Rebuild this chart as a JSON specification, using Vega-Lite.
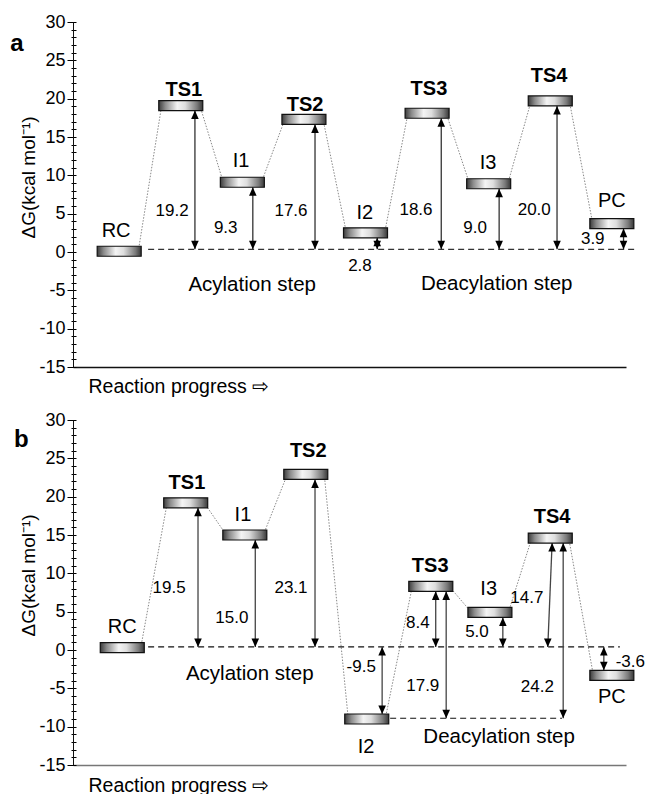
{
  "$schema": "https://vega.github.io/schema/vega-lite/v6.json",
  "padding": {"left": 10, "top": 13, "right": 0, "bottom": 0},
  "background": "white",
  "spacing": 15,
  "config": {"font": "Liberation Sans", "view": {"stroke": null}, "axis": {"grid": false}},
  "datasets": {
    "levelsA": [
      {"state": "RC", "x": 1, "y": 0.1}, {"state": "TS1", "x": 2, "y": 19.1}, {"state": "I1", "x": 3, "y": 9.1},
      {"state": "TS2", "x": 4, "y": 17.3}, {"state": "I2", "x": 5, "y": 2.5}, {"state": "TS3", "x": 6, "y": 18.1},
      {"state": "I3", "x": 7, "y": 8.9}, {"state": "TS4", "x": 8, "y": 19.7}, {"state": "PC", "x": 9, "y": 3.7}
    ],
    "connA": [
      {"x": 1.31, "y": 0.1, "x2": 1.69, "y2": 19.1}, {"x": 2.31, "y": 19.1, "x2": 2.69, "y2": 9.1},
      {"x": 3.31, "y": 9.1, "x2": 3.69, "y2": 17.3}, {"x": 4.31, "y": 17.3, "x2": 4.69, "y2": 2.5},
      {"x": 5.31, "y": 2.5, "x2": 5.69, "y2": 18.1}, {"x": 6.31, "y": 18.1, "x2": 6.69, "y2": 8.9},
      {"x": 7.31, "y": 8.9, "x2": 7.69, "y2": 19.7}, {"x": 8.31, "y": 19.7, "x2": 8.69, "y2": 3.7}
    ],
    "dashA": [{"x": 1.47, "y": 0.35, "x2": 9.41, "y2": 0.35}],
    "arrowsA": [
      {"x": 2.23, "y": 0.35, "x2": 2.23, "y2": 18.45}, {"x": 3.17, "y": 0.35, "x2": 3.17, "y2": 8.45},
      {"x": 4.18, "y": 0.35, "x2": 4.18, "y2": 16.65}, {"x": 5.19, "y": 0.35, "x2": 5.19, "y2": 1.85},
      {"x": 6.23, "y": 0.35, "x2": 6.23, "y2": 17.45}, {"x": 7.17, "y": 0.35, "x2": 7.17, "y2": 8.25},
      {"x": 8.11, "y": 0.35, "x2": 8.11, "y2": 19.05}, {"x": 9.19, "y": 0.35, "x2": 9.19, "y2": 3.05}
    ],
    "textA": [
      {"k": "ts", "t": "TS1", "x": 2.05, "y": 21.1}, {"k": "ts", "t": "TS2", "x": 4.02, "y": 19.2},
      {"k": "ts", "t": "TS3", "x": 6.03, "y": 21.2}, {"k": "ts", "t": "TS4", "x": 7.98, "y": 22.9},
      {"k": "st", "t": "RC", "x": 0.95, "y": 2.7}, {"k": "st", "t": "I1", "x": 2.98, "y": 11.9},
      {"k": "st", "t": "I2", "x": 4.99, "y": 5.1}, {"k": "st", "t": "I3", "x": 6.99, "y": 11.6},
      {"k": "st", "t": "PC", "x": 9.0, "y": 6.6},
      {"k": "val", "t": "19.2", "x": 1.86, "y": 5.35}, {"k": "val", "t": "9.3", "x": 2.73, "y": 3.1},
      {"k": "val", "t": "17.6", "x": 3.79, "y": 5.35}, {"k": "val", "t": "2.8", "x": 4.91, "y": -1.8},
      {"k": "val", "t": "18.6", "x": 5.82, "y": 5.5}, {"k": "val", "t": "9.0", "x": 6.78, "y": 3.1},
      {"k": "val", "t": "20.0", "x": 7.74, "y": 5.5}, {"k": "val", "t": "3.9", "x": 8.69, "y": 1.7},
      {"k": "step", "t": "Acylation step", "x": 3.16, "y": -4.3},
      {"k": "step", "t": "Deacylation step", "x": 7.13, "y": -4.2},
      {"k": "letter", "t": "a", "x": -0.66, "y": 27.1}
    ],
    "levelsB": [
      {"state": "RC", "x": 1.05, "y": 0.3}, {"state": "TS1", "x": 2.08, "y": 19.2}, {"state": "I1", "x": 3.04, "y": 15.0},
      {"state": "TS2", "x": 4.03, "y": 22.9}, {"state": "I2", "x": 5.02, "y": -9.0}, {"state": "TS3", "x": 6.06, "y": 8.3},
      {"state": "I3", "x": 7.02, "y": 4.9}, {"state": "TS4", "x": 8.0, "y": 14.6}, {"state": "PC", "x": 9.0, "y": -3.3}
    ],
    "connB": [
      {"x": 1.35, "y": 0.3, "x2": 1.78, "y2": 19.2}, {"x": 2.38, "y": 19.2, "x2": 2.74, "y2": 15.0},
      {"x": 3.34, "y": 15.0, "x2": 3.73, "y2": 22.9}, {"x": 4.33, "y": 22.9, "x2": 4.72, "y2": -9.0},
      {"x": 5.32, "y": -9.0, "x2": 5.76, "y2": 8.3}, {"x": 6.36, "y": 8.3, "x2": 6.72, "y2": 4.9},
      {"x": 7.32, "y": 4.9, "x2": 7.7, "y2": 14.6}, {"x": 8.3, "y": 14.6, "x2": 8.7, "y2": -3.3}
    ],
    "dashB": [{"x": 1.47, "y": 0.4, "x2": 9.13, "y2": 0.4}, {"x": 5.4, "y": -8.9, "x2": 8.19, "y2": -8.9}],
    "arrowsB": [
      {"x": 2.28, "y": 0.4, "x2": 2.28, "y2": 18.55}, {"x": 3.21, "y": 0.4, "x2": 3.21, "y2": 14.35},
      {"x": 4.18, "y": 0.4, "x2": 4.18, "y2": 22.25}, {"x": 5.27, "y": -8.35, "x2": 5.27, "y2": 0.4},
      {"x": 6.14, "y": 0.4, "x2": 6.14, "y2": 7.65}, {"x": 6.31, "y": -8.9, "x2": 6.31, "y2": 7.65},
      {"x": 7.23, "y": 0.4, "x2": 7.23, "y2": 4.25}, {"x": 7.96, "y": 0.4, "x2": 8.03, "y2": 13.95},
      {"x": 8.21, "y": -8.9, "x2": 8.21, "y2": 13.95}, {"x": 8.87, "y": -2.65, "x2": 8.87, "y2": 0.4}
    ],
    "textB": [
      {"k": "ts", "t": "TS1", "x": 2.1, "y": 21.8}, {"k": "ts", "t": "TS2", "x": 4.07, "y": 25.9},
      {"k": "ts", "t": "TS3", "x": 6.05, "y": 10.9}, {"k": "ts", "t": "TS4", "x": 8.03, "y": 17.4},
      {"k": "st", "t": "RC", "x": 1.05, "y": 3.0}, {"k": "st", "t": "I1", "x": 3.01, "y": 17.6},
      {"k": "st", "t": "I2", "x": 5.01, "y": -12.6}, {"k": "st", "t": "I3", "x": 7.0, "y": 7.9},
      {"k": "st", "t": "PC", "x": 9.0, "y": -6.1},
      {"k": "val", "t": "19.5", "x": 1.81, "y": 8.1}, {"k": "val", "t": "15.0", "x": 2.83, "y": 4.2},
      {"k": "val", "t": "23.1", "x": 3.79, "y": 8.1}, {"k": "val", "t": "-9.5", "x": 4.93, "y": -2.2},
      {"k": "val", "t": "8.4", "x": 5.85, "y": 3.5}, {"k": "val", "t": "17.9", "x": 5.93, "y": -4.7},
      {"k": "val", "t": "5.0", "x": 6.81, "y": 2.3}, {"k": "val", "t": "14.7", "x": 7.62, "y": 6.8},
      {"k": "val", "t": "24.2", "x": 7.79, "y": -4.8}, {"k": "val", "t": "-3.6", "x": 9.3, "y": -1.6},
      {"k": "step", "t": "Acylation step", "x": 3.12, "y": -3.1},
      {"k": "step", "t": "Deacylation step", "x": 7.17, "y": -11.3},
      {"k": "letter", "t": "b", "x": -0.59, "y": 27.4}
    ]
  },
  "vconcat": [
    {
      "width": 553, "height": 345,
      "resolve": {"axis": {"x": "independent", "y": "independent"}},
      "layer": [
        {"data": {"name": "connA"}, "mark": {"type": "rule", "color": "#7a7a7a", "strokeWidth": 0.9, "strokeDash": [1.5, 1.5]},
         "encoding": {"x": {"field": "x", "type": "quantitative", "scale": {"domain": [0.25, 9.23], "nice": false, "zero": false}, "axis": null},
                      "y": {"field": "y", "type": "quantitative", "scale": {"domain": [-15, 30], "nice": false, "zero": false}, "axis": null},
                      "x2": {"field": "x2"}, "y2": {"field": "y2"}}},
        {"data": {"name": "dashA"}, "mark": {"type": "rule", "color": "#333", "strokeWidth": 1.2, "strokeDash": [6, 4]},
         "encoding": {"x": {"field": "x", "type": "quantitative", "scale": {"domain": [0.25, 9.23], "nice": false, "zero": false}, "axis": null},
                      "y": {"field": "y", "type": "quantitative", "scale": {"domain": [-15, 30], "nice": false, "zero": false},
                            "axis": {"orient": "left", "title": null, "labels": false, "domain": false, "ticks": true, "offset": -3,
                                     "values": [-15,-14,-13,-12,-11,-10,-9,-8,-7,-6,-5,-4,-3,-2,-1,0,1,2,3,4,5,6,7,8,9,10,11,12,13,14,15,16,17,18,19,20,21,22,23,24,25,26,27,28,29,30],
                                     "tickColor": "#000", "tickWidth": 1,
                                     "tickSize": {"condition": {"test": "datum.value % 5 === 0", "value": 9}, "value": 5}}},
                      "x2": {"field": "x2"}, "y2": {"field": "y2"}}},
        {"data": {"name": "arrowsA"}, "mark": {"type": "rule", "color": "#333", "strokeWidth": 1.3},
         "encoding": {"x": {"field": "x", "type": "quantitative", "scale": {"domain": [0.25, 9.23], "nice": false, "zero": false}, "axis": null},
                      "y": {"field": "y", "type": "quantitative", "scale": {"domain": [-15, 30], "nice": false, "zero": false}, "axis": null},
                      "x2": {"field": "x2"}, "y2": {"field": "y2"}}},
        {"data": {"name": "levelsA"},
         "mark": {"type": "tick", "orient": "horizontal", "size": 44, "thickness": 10, "opacity": 1, "stroke": "#111", "strokeWidth": 1.2,
                  "fill": {"gradient": "linear", "x1": 0, "y1": 0, "x2": 1, "y2": 0,
                           "stops": [{"offset": 0, "color": "#3c3c3c"}, {"offset": 0.15, "color": "#8c8c8c"}, {"offset": 0.42, "color": "#f4f4f4"},
                                     {"offset": 0.6, "color": "#dedede"}, {"offset": 0.87, "color": "#7a7a7a"}, {"offset": 1, "color": "#383838"}]}},
         "encoding": {"x": {"field": "x", "type": "quantitative", "scale": {"domain": [0.25, 9.23], "nice": false, "zero": false},
                            "axis": {"orient": "bottom", "title": "Reaction progress ⇨", "ticks": false, "labels": false, "domain": true,
                                     "domainColor": "#111", "domainWidth": 1.5, "titleFontSize": 19.5, "titleFontWeight": "normal", "titleColor": "#000",
                                     "titleAlign": "left", "titleBaseline": "middle", "titleX": 15, "titleY": 19}},
                      "y": {"field": "y", "type": "quantitative", "scale": {"domain": [-15, 30], "nice": false, "zero": false},
                            "axis": {"orient": "left", "title": "ΔG(kcal mol⁻¹)", "values": [-15, -10, -5, 0, 5, 10, 15, 20, 25, 30],
                                     "labelExpr": "'' + datum.value", "ticks": false, "tickSize": 0, "domain": true, "domainColor": "#111", "domainWidth": 1,
                                     "labelFontSize": 18, "labelPadding": 8, "labelColor": "#000",
                                     "titleFontSize": 19, "titleFontWeight": "normal", "titleColor": "#000",
                                     "titleX": -45, "titleY": 155, "titleAlign": "center", "titleBaseline": "middle", "titleAngle": -90}}}},
        {"data": {"name": "arrowsA"}, "mark": {"type": "point", "shape": "M0,0L-0.8,1.8L0.8,1.8Z", "size": 90, "filled": true, "color": "#000", "opacity": 1},
         "encoding": {"x": {"field": "x2", "type": "quantitative", "scale": {"domain": [0.25, 9.23], "nice": false, "zero": false}, "axis": null},
                      "y": {"field": "y2", "type": "quantitative", "scale": {"domain": [-15, 30], "nice": false, "zero": false}, "axis": null}}},
        {"data": {"name": "arrowsA"}, "mark": {"type": "point", "shape": "M0,0L-0.8,-1.8L0.8,-1.8Z", "size": 90, "filled": true, "color": "#000", "opacity": 1},
         "encoding": {"x": {"field": "x", "type": "quantitative", "scale": {"domain": [0.25, 9.23], "nice": false, "zero": false}, "axis": null},
                      "y": {"field": "y", "type": "quantitative", "scale": {"domain": [-15, 30], "nice": false, "zero": false}, "axis": null}}},
        {"data": {"name": "textA"}, "transform": [{"filter": "datum.k === 'ts'"}],
         "mark": {"type": "text", "fontSize": 20, "fontWeight": "bold", "align": "center", "baseline": "middle", "color": "#000"},
         "encoding": {"x": {"field": "x", "type": "quantitative", "scale": {"domain": [0.25, 9.23], "nice": false, "zero": false}, "axis": null},
                      "y": {"field": "y", "type": "quantitative", "scale": {"domain": [-15, 30], "nice": false, "zero": false}, "axis": null},
                      "text": {"field": "t"}}},
        {"data": {"name": "textA"}, "transform": [{"filter": "datum.k === 'st'"}],
         "mark": {"type": "text", "fontSize": 20, "align": "center", "baseline": "middle", "color": "#000"},
         "encoding": {"x": {"field": "x", "type": "quantitative", "scale": {"domain": [0.25, 9.23], "nice": false, "zero": false}, "axis": null},
                      "y": {"field": "y", "type": "quantitative", "scale": {"domain": [-15, 30], "nice": false, "zero": false}, "axis": null},
                      "text": {"field": "t"}}},
        {"data": {"name": "textA"}, "transform": [{"filter": "datum.k === 'val'"}],
         "mark": {"type": "text", "fontSize": 17, "align": "center", "baseline": "middle", "color": "#000"},
         "encoding": {"x": {"field": "x", "type": "quantitative", "scale": {"domain": [0.25, 9.23], "nice": false, "zero": false}, "axis": null},
                      "y": {"field": "y", "type": "quantitative", "scale": {"domain": [-15, 30], "nice": false, "zero": false}, "axis": null},
                      "text": {"field": "t"}}},
        {"data": {"name": "textA"}, "transform": [{"filter": "datum.k === 'step'"}],
         "mark": {"type": "text", "fontSize": 20.5, "align": "center", "baseline": "middle", "color": "#000"},
         "encoding": {"x": {"field": "x", "type": "quantitative", "scale": {"domain": [0.25, 9.23], "nice": false, "zero": false}, "axis": null},
                      "y": {"field": "y", "type": "quantitative", "scale": {"domain": [-15, 30], "nice": false, "zero": false}, "axis": null},
                      "text": {"field": "t"}}},
        {"data": {"name": "textA"}, "transform": [{"filter": "datum.k === 'letter'"}],
         "mark": {"type": "text", "fontSize": 24, "fontWeight": "bold", "align": "center", "baseline": "middle", "color": "#000"},
         "encoding": {"x": {"field": "x", "type": "quantitative", "scale": {"domain": [0.25, 9.23], "nice": false, "zero": false}, "axis": null},
                      "y": {"field": "y", "type": "quantitative", "scale": {"domain": [-15, 30], "nice": false, "zero": false}, "axis": null},
                      "text": {"field": "t"}}}
      ]
    },
    {
      "width": 553, "height": 345,
      "resolve": {"axis": {"x": "independent", "y": "independent"}},
      "layer": [
        {"data": {"name": "connB"}, "mark": {"type": "rule", "color": "#7a7a7a", "strokeWidth": 0.9, "strokeDash": [1.5, 1.5]},
         "encoding": {"x": {"field": "x", "type": "quantitative", "scale": {"domain": [0.25, 9.23], "nice": false, "zero": false}, "axis": null},
                      "y": {"field": "y", "type": "quantitative", "scale": {"domain": [-15, 30], "nice": false, "zero": false}, "axis": null},
                      "x2": {"field": "x2"}, "y2": {"field": "y2"}}},
        {"data": {"name": "dashB"}, "mark": {"type": "rule", "color": "#111", "strokeWidth": 1.2, "strokeDash": [6, 4]},
         "encoding": {"x": {"field": "x", "type": "quantitative", "scale": {"domain": [0.25, 9.23], "nice": false, "zero": false}, "axis": null},
                      "y": {"field": "y", "type": "quantitative", "scale": {"domain": [-15, 30], "nice": false, "zero": false},
                            "axis": {"orient": "left", "title": null, "labels": false, "domain": false, "ticks": true, "offset": -3,
                                     "values": [-15,-14,-13,-12,-11,-10,-9,-8,-7,-6,-5,-4,-3,-2,-1,0,1,2,3,4,5,6,7,8,9,10,11,12,13,14,15,16,17,18,19,20,21,22,23,24,25,26,27,28,29,30],
                                     "tickColor": "#000", "tickWidth": 1,
                                     "tickSize": {"condition": {"test": "datum.value % 5 === 0", "value": 9}, "value": 5}}},
                      "x2": {"field": "x2"}, "y2": {"field": "y2"}}},
        {"data": {"name": "arrowsB"}, "mark": {"type": "rule", "color": "#444", "strokeWidth": 1.3},
         "encoding": {"x": {"field": "x", "type": "quantitative", "scale": {"domain": [0.25, 9.23], "nice": false, "zero": false}, "axis": null},
                      "y": {"field": "y", "type": "quantitative", "scale": {"domain": [-15, 30], "nice": false, "zero": false}, "axis": null},
                      "x2": {"field": "x2"}, "y2": {"field": "y2"}}},
        {"data": {"name": "levelsB"},
         "mark": {"type": "tick", "orient": "horizontal", "size": 44, "thickness": 10, "opacity": 1, "stroke": "#111", "strokeWidth": 1.2,
                  "fill": {"gradient": "linear", "x1": 0, "y1": 0, "x2": 1, "y2": 0,
                           "stops": [{"offset": 0, "color": "#3c3c3c"}, {"offset": 0.15, "color": "#8c8c8c"}, {"offset": 0.42, "color": "#f4f4f4"},
                                     {"offset": 0.6, "color": "#dedede"}, {"offset": 0.87, "color": "#7a7a7a"}, {"offset": 1, "color": "#383838"}]}},
         "encoding": {"x": {"field": "x", "type": "quantitative", "scale": {"domain": [0.25, 9.23], "nice": false, "zero": false},
                            "axis": {"orient": "bottom", "title": "Reaction progress ⇨", "ticks": false, "labels": false, "domain": true,
                                     "domainColor": "#777", "domainWidth": 1.5, "titleFontSize": 19.5, "titleFontWeight": "normal", "titleColor": "#000",
                                     "titleAlign": "left", "titleBaseline": "middle", "titleX": 15, "titleY": 20}},
                      "y": {"field": "y", "type": "quantitative", "scale": {"domain": [-15, 30], "nice": false, "zero": false},
                            "axis": {"orient": "left", "title": "ΔG(kcal mol⁻¹)", "values": [-15, -10, -5, 0, 5, 10, 15, 20, 25, 30],
                                     "labelExpr": "'' + datum.value", "ticks": false, "tickSize": 0, "domain": true, "domainColor": "#111", "domainWidth": 1,
                                     "labelFontSize": 18, "labelPadding": 8, "labelColor": "#000",
                                     "titleFontSize": 19, "titleFontWeight": "normal", "titleColor": "#000",
                                     "titleX": -45, "titleY": 155, "titleAlign": "center", "titleBaseline": "middle", "titleAngle": -90}}}},
        {"data": {"name": "arrowsB"}, "mark": {"type": "point", "shape": "M0,0L-0.8,1.8L0.8,1.8Z", "size": 90, "filled": true, "color": "#000", "opacity": 1},
         "encoding": {"x": {"field": "x2", "type": "quantitative", "scale": {"domain": [0.25, 9.23], "nice": false, "zero": false}, "axis": null},
                      "y": {"field": "y2", "type": "quantitative", "scale": {"domain": [-15, 30], "nice": false, "zero": false}, "axis": null}}},
        {"data": {"name": "arrowsB"}, "mark": {"type": "point", "shape": "M0,0L-0.8,-1.8L0.8,-1.8Z", "size": 90, "filled": true, "color": "#000", "opacity": 1},
         "encoding": {"x": {"field": "x", "type": "quantitative", "scale": {"domain": [0.25, 9.23], "nice": false, "zero": false}, "axis": null},
                      "y": {"field": "y", "type": "quantitative", "scale": {"domain": [-15, 30], "nice": false, "zero": false}, "axis": null}}},
        {"data": {"name": "textB"}, "transform": [{"filter": "datum.k === 'ts'"}],
         "mark": {"type": "text", "fontSize": 20, "fontWeight": "bold", "align": "center", "baseline": "middle", "color": "#000"},
         "encoding": {"x": {"field": "x", "type": "quantitative", "scale": {"domain": [0.25, 9.23], "nice": false, "zero": false}, "axis": null},
                      "y": {"field": "y", "type": "quantitative", "scale": {"domain": [-15, 30], "nice": false, "zero": false}, "axis": null},
                      "text": {"field": "t"}}},
        {"data": {"name": "textB"}, "transform": [{"filter": "datum.k === 'st'"}],
         "mark": {"type": "text", "fontSize": 20, "align": "center", "baseline": "middle", "color": "#000"},
         "encoding": {"x": {"field": "x", "type": "quantitative", "scale": {"domain": [0.25, 9.23], "nice": false, "zero": false}, "axis": null},
                      "y": {"field": "y", "type": "quantitative", "scale": {"domain": [-15, 30], "nice": false, "zero": false}, "axis": null},
                      "text": {"field": "t"}}},
        {"data": {"name": "textB"}, "transform": [{"filter": "datum.k === 'val'"}],
         "mark": {"type": "text", "fontSize": 17, "align": "center", "baseline": "middle", "color": "#000"},
         "encoding": {"x": {"field": "x", "type": "quantitative", "scale": {"domain": [0.25, 9.23], "nice": false, "zero": false}, "axis": null},
                      "y": {"field": "y", "type": "quantitative", "scale": {"domain": [-15, 30], "nice": false, "zero": false}, "axis": null},
                      "text": {"field": "t"}}},
        {"data": {"name": "textB"}, "transform": [{"filter": "datum.k === 'step'"}],
         "mark": {"type": "text", "fontSize": 20.5, "align": "center", "baseline": "middle", "color": "#000"},
         "encoding": {"x": {"field": "x", "type": "quantitative", "scale": {"domain": [0.25, 9.23], "nice": false, "zero": false}, "axis": null},
                      "y": {"field": "y", "type": "quantitative", "scale": {"domain": [-15, 30], "nice": false, "zero": false}, "axis": null},
                      "text": {"field": "t"}}},
        {"data": {"name": "textB"}, "transform": [{"filter": "datum.k === 'letter'"}],
         "mark": {"type": "text", "fontSize": 24, "fontWeight": "bold", "align": "center", "baseline": "middle", "color": "#000"},
         "encoding": {"x": {"field": "x", "type": "quantitative", "scale": {"domain": [0.25, 9.23], "nice": false, "zero": false}, "axis": null},
                      "y": {"field": "y", "type": "quantitative", "scale": {"domain": [-15, 30], "nice": false, "zero": false}, "axis": null},
                      "text": {"field": "t"}}}
      ]
    }
  ]
}
